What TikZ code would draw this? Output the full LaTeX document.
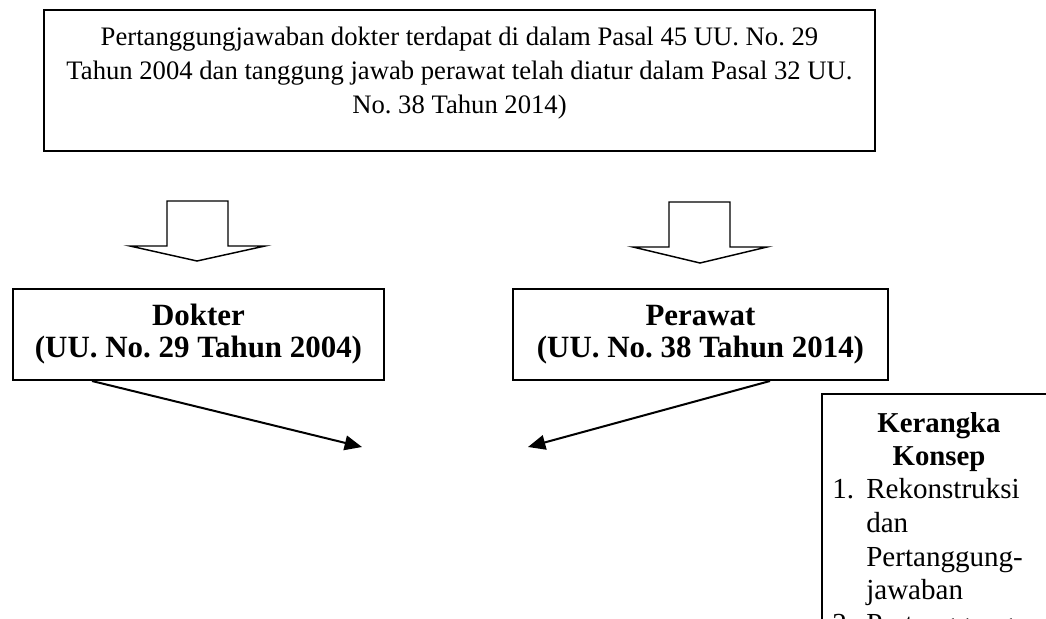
\documentclass[tikz,border=0pt]{standalone}
\usepackage{fontspec}
\setmainfont{Liberation Serif}
\usetikzlibrary{arrows.meta}
\frenchspacing
\begin{document}
\frenchspacing
\begin{tikzpicture}[x=0.75pt,y=-0.75pt,
  norm/.style={font=\fontsize{20}{25.5}\selectfont},
  bold/.style={font=\fontsize{23.2}{24}\selectfont\bfseries},
  knorm/.style={font=\fontsize{21.8}{25}\selectfont},
  kbold/.style={font=\fontsize{21.6}{25}\selectfont\bfseries},
  box/.style={draw, line width=1.2pt, inner sep=0pt},
  txt/.style={align=center, inner sep=0pt},
  blockarrow/.style={draw, line width=1.1pt, line join=miter},
  conn/.style={line width=1.5pt, -{Triangle[length=13pt,width=11pt]}}]
\useasboundingbox (0,0) rectangle (1046,618);
\clip (0,0) rectangle (1046,618);
\fill[white] (0,0) rectangle (1046,618);

% top box
\node[box, minimum width=623.25pt, minimum height=105.75pt] (top) at (459.5,80.5) {};
\node[txt, norm] (toptext) at (459.5,73) {Pertanggungjawaban dokter terdapat di dalam Pasal 45 UU. No. 29\\
Tahun 2004 dan tanggung jawab perawat telah diatur dalam Pasal 32 UU.\\
No. 38 Tahun 2014)};

% block arrows
\draw[blockarrow] (167,201) -- (228,201) -- (228,246) -- (265,246) -- (197,261) -- (130,246) -- (167,246) -- cycle;
\draw[blockarrow] (669,202) -- (730,202) -- (730,247) -- (767,247) -- (700,263) -- (633,247) -- (669,247) -- cycle;

% Dokter / Perawat boxes
\node[box, txt, bold, minimum width=278.25pt, minimum height=68.25pt] (dokter) at (198.5,334.5) {Dokter\\(UU. No. 29 Tahun 2004)};
\node[box, txt, bold, minimum width=281.25pt, minimum height=68.25pt] (perawat) at (700.5,334.5) {Perawat\\(UU. No. 38 Tahun 2014)};

% connectors
\coordinate (d1) at (92,381);
\coordinate (d2) at (362,447);
\coordinate (p1) at (770,381);
\coordinate (p2) at (528,447);
\draw[conn] (d1) -- (d2);
\draw[conn] (p1) -- (p2);

% Kerangka Konsep box (cut off by the page edge)
\node[box, minimum width=178.5pt, minimum height=229.5pt] (kerangka) at (941,547) {};
\node[anchor=base, kbold, inner sep=0pt] (k1) at (939,432) {Kerangka};
\node[anchor=base, kbold, inner sep=0pt] (k2) at (939,465) {Konsep};
\node[anchor=base west, knorm, inner sep=0pt] (n1) at (832,498) {1.};
\node[anchor=base west, knorm, inner sep=0pt] (i1) at (866,498) {Rekonstruksi};
\node[anchor=base west, knorm, inner sep=0pt] (i2) at (866,532) {dan};
\node[anchor=base west, knorm, inner sep=0pt] (i3) at (866,566) {Pertanggung-};
\node[anchor=base west, knorm, inner sep=0pt] (i4) at (866,599) {jawaban};
\node[anchor=base west, knorm, inner sep=0pt] (n2) at (832,633) {2.};
\node[anchor=base west, knorm, inner sep=0pt] (i5) at (866,633) {Pertanggung-};
\end{tikzpicture}
\end{document}
